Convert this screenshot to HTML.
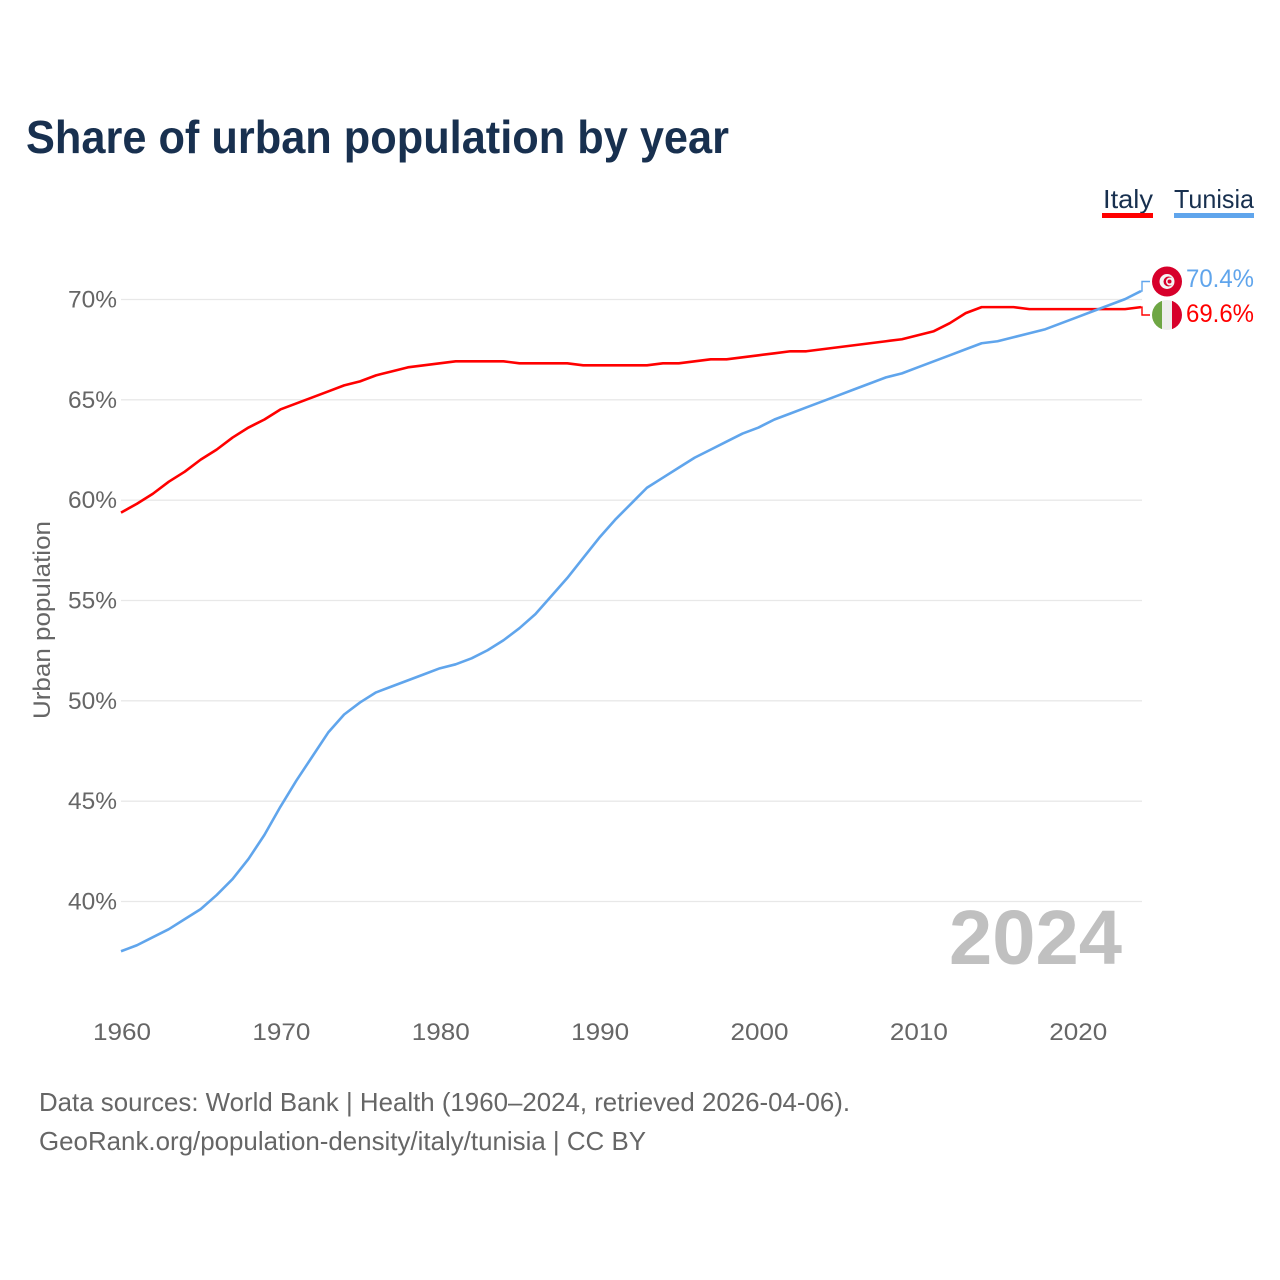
<!DOCTYPE html>
<html lang="en">
<head>
<meta charset="utf-8">
<title>Share of urban population by year</title>
<style>
html,body{margin:0;padding:0;background:#fff;}
svg{display:block;font-family:"Liberation Sans",sans-serif;}
</style>
</head>
<body>
<svg id="chart" xmlns="http://www.w3.org/2000/svg" width="1280" height="1280" viewBox="0 0 1280 1280">
  <defs>
    <clipPath id="flag-clip-it"><circle cx="1167" cy="315" r="15"/></clipPath>
  </defs>
  <rect x="0" y="0" width="1280" height="1280" fill="#ffffff"/>
  <text x="26" y="153" font-size="46" font-weight="700" fill="#18304f" textLength="703" lengthAdjust="spacingAndGlyphs">Share of urban population by year</text>

  <g>
    <g>
      <text x="1103" y="208" font-size="26" fill="#18304f" textLength="50" lengthAdjust="spacingAndGlyphs">Italy</text>
      <rect x="1102" y="213" width="51" height="5" fill="#ff0000"/>
    </g>
    <g>
      <text x="1174" y="208" font-size="26" fill="#18304f" textLength="80" lengthAdjust="spacingAndGlyphs">Tunisia</text>
      <rect x="1174" y="213" width="80" height="5" fill="#60a5ec"/>
    </g>
  </g>

  <g id="grid"></g>
  <g id="yticks"></g>
  <g id="xticks"></g>

  <text transform="translate(50,620) rotate(-90)" text-anchor="middle" font-size="24" fill="#666666" textLength="198" lengthAdjust="spacingAndGlyphs">Urban population</text>

  <text x="1122" y="964" text-anchor="end" font-size="77" font-weight="700" fill="#c0c0c0" textLength="173" lengthAdjust="spacingAndGlyphs">2024</text>

  <g id="series"></g>

  <g id="end-labels">
    <g>
      <circle cx="1167" cy="281.5" r="15" fill="#d7002b"/>
      <circle cx="1167" cy="281.5" r="7.5" fill="#f4f4f4"/>
      <circle cx="1168.5" cy="281.5" r="5" fill="#d7002b"/>
      <circle cx="1170" cy="281.5" r="4" fill="#f4f4f4"/>
      <circle cx="1169.5" cy="281.5" r="2" fill="#d7002b"/>
    </g>
    <g clip-path="url(#flag-clip-it)">
      <rect x="1152" y="300" width="10" height="30" fill="#6ea644"/>
      <rect x="1162" y="300" width="10" height="30" fill="#eeeeee"/>
      <rect x="1172" y="300" width="10" height="30" fill="#d7002b"/>
    </g>
    <text id="label-tunisia" x="1254" y="287" text-anchor="end" font-size="25" fill="#60a5ec" textLength="68" lengthAdjust="spacingAndGlyphs"></text>
    <text id="label-italy" x="1254" y="322" text-anchor="end" font-size="25" fill="#ff0000" textLength="68" lengthAdjust="spacingAndGlyphs"></text>
  </g>

  <text x="39" y="1111" font-size="26" fill="#666666" textLength="811" lengthAdjust="spacingAndGlyphs">Data sources: World Bank | Health (1960–2024, retrieved 2026-04-06).</text>
  <text x="39" y="1150" font-size="26" fill="#666666" textLength="607" lengthAdjust="spacingAndGlyphs">GeoRank.org/population-density/italy/tunisia | CC BY</text>
</svg>
<script>
const startYear = 1960;
const xTickLabels = [1960, 1970, 1980, 1990, 2000, 2010, 2020];
const yTickLabels = [40, 45, 50, 55, 60, 65, 70];
const italyValues = [59.36,59.8,60.3,60.9,61.4,62.0,62.5,63.1,63.6,64.0,64.5,64.8,65.1,65.4,65.7,65.9,66.2,66.4,66.6,66.7,66.8,66.9,66.9,66.9,66.9,66.8,66.8,66.8,66.8,66.7,66.7,66.7,66.7,66.7,66.8,66.8,66.9,67.0,67.0,67.1,67.2,67.3,67.4,67.4,67.5,67.6,67.7,67.8,67.9,68.0,68.2,68.4,68.8,69.3,69.6,69.6,69.6,69.5,69.5,69.5,69.5,69.5,69.5,69.5,69.6];
const tunisiaValues = [37.5,37.8,38.2,38.6,39.1,39.6,40.3,41.1,42.1,43.3,44.7,46.0,47.2,48.4,49.3,49.9,50.4,50.7,51.0,51.3,51.6,51.8,52.1,52.5,53.0,53.6,54.3,55.2,56.1,57.1,58.1,59.0,59.8,60.6,61.1,61.6,62.1,62.5,62.9,63.3,63.6,64.0,64.3,64.6,64.9,65.2,65.5,65.8,66.1,66.3,66.6,66.9,67.2,67.5,67.8,67.9,68.1,68.3,68.5,68.8,69.1,69.4,69.7,70.0,70.4];

const NS = 'http://www.w3.org/2000/svg';
const plotLeft = 121, plotRight = 1141;
const xScale = year => plotLeft + (year - startYear) * (plotRight - plotLeft) / 64;
const yScale = value => 901.5 - (value - 40) * (901.5 - 299.5) / 30;

function make(tag, attrs, parent) {
  const el = document.createElementNS(NS, tag);
  for (const k in attrs) el.setAttribute(k, attrs[k]);
  parent.appendChild(el);
  return el;
}

const gridGroup = document.getElementById('grid');
const yGroup = document.getElementById('yticks');
yTickLabels.forEach(v => {
  const line = make('line', {x1: plotLeft, x2: plotRight + 1, y1: yScale(v), y2: yScale(v), stroke: '#e8e8e8', 'stroke-width': 1.3}, gridGroup);
  
  
  const t = make('text', {x: 117, y: yScale(v) + 8, 'text-anchor': 'end', 'font-size': 24, fill: '#666666', textLength: 49, lengthAdjust: 'spacingAndGlyphs'}, yGroup);
  
  
  t.textContent = v + '%';
});

const xGroup = document.getElementById('xticks');
xTickLabels.forEach(y => {
  const t = make('text', {x: xScale(y) + 1, y: 1040, 'text-anchor': 'middle', 'font-size': 24, fill: '#666666', textLength: 58, lengthAdjust: 'spacingAndGlyphs'}, xGroup);
  
  
  t.textContent = y;
});

function toPoints(values) {
  return values.map((v, i) => xScale(startYear + i).toFixed(2) + ',' + (yScale(v) - 0.4).toFixed(2)).join(' ');
}
const seriesGroup = document.getElementById('series');

const italyLine = make('polyline', {points: toPoints(italyValues), fill: 'none', stroke: '#ff0000', 'stroke-width': 2.6, 'stroke-linejoin': 'round'}, seriesGroup);



const tunisiaLine = make('polyline', {points: toPoints(tunisiaValues), fill: 'none', stroke: '#60a5ec', 'stroke-width': 2.6, 'stroke-linejoin': 'round'}, seriesGroup);



const lastItaly = italyValues[italyValues.length - 1];
const lastTunisia = tunisiaValues[tunisiaValues.length - 1];

const tunisiaConnector = make('polyline', {points: plotRight + ',' + (yScale(lastTunisia) - 0.4) + ' 1142,' + (yScale(lastTunisia) - 0.4) + ' 1142,281.5 1150,281.5', fill: 'none', stroke: '#60a5ec', 'stroke-width': 1.4}, seriesGroup);



const italyConnector = make('polyline', {points: plotRight + ',' + (yScale(lastItaly) - 0.4) + ' 1142,' + (yScale(lastItaly) - 0.4) + ' 1142,315 1150,315', fill: 'none', stroke: '#ff0000', 'stroke-width': 1.4}, seriesGroup);



document.getElementById('label-tunisia').textContent = lastTunisia.toFixed(1) + '%';
document.getElementById('label-italy').textContent = lastItaly.toFixed(1) + '%';
</script>
</body>
</html>
